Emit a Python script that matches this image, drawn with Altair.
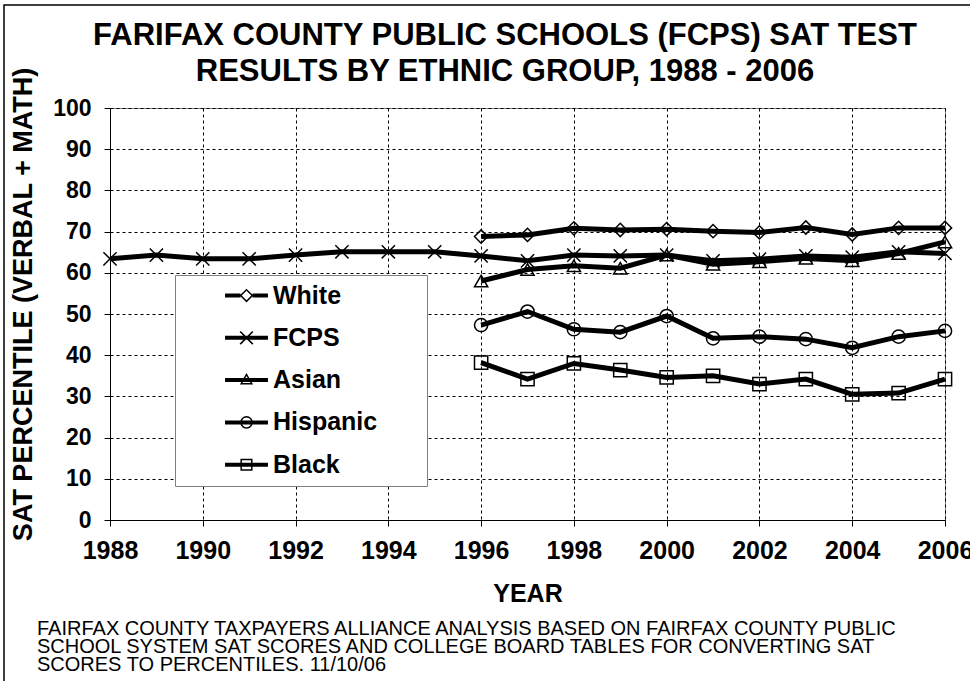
import math
import altair as alt
import pandas as pd

# ---------------- data ----------------
TITLE_LINES = ["FARIFAX COUNTY PUBLIC SCHOOLS (FCPS) SAT TEST",
               "RESULTS BY ETHNIC GROUP, 1988 - 2006"]
Y_TITLE = "SAT PERCENTILE  (VERBAL + MATH)"
X_TITLE = "YEAR"
NOTE_LINES = [
    "FAIRFAX COUNTY TAXPAYERS ALLIANCE ANALYSIS BASED ON FAIRFAX COUNTY PUBLIC",
    "SCHOOL SYSTEM SAT SCORES AND COLLEGE BOARD TABLES FOR CONVERTING SAT",
    "SCORES TO PERCENTILES.  11/10/06",
]
SERIES = ["White", "FCPS", "Asian", "Hispanic", "Black"]
FCPS_YEARS = list(range(1988, 2007))
GROUP_YEARS = list(range(1996, 2007))
FCPS = [63.4, 64.3, 63.4, 63.4, 64.3, 65.1, 65.1, 65.1, 64.1, 62.9,
        64.3, 64.1, 64.3, 62.9, 63.3, 64.1, 63.8, 65.1, 64.7]
WHITE = [68.8, 69.2, 70.8, 70.4, 70.6, 70.1, 69.8, 71.0, 69.3, 70.9, 70.9]
ASIAN = [58.0, 60.8, 61.7, 61.1, 64.3, 62.1, 62.7, 63.5, 62.9, 64.7, 67.5]
HISPANIC = [47.3, 50.6, 46.3, 45.6, 49.5, 44.1, 44.5, 43.9, 41.8, 44.5, 45.9]
BLACK = [38.2, 34.2, 38.0, 36.4, 34.6, 35.0, 33.0, 34.2, 30.5, 30.8, 34.2]
X_TICKS = list(range(1988, 2007, 2))
Y_TICKS = list(range(0, 101, 10))

rows = []
for name, years, vals in [("White", GROUP_YEARS, WHITE), ("FCPS", FCPS_YEARS, FCPS),
                          ("Asian", GROUP_YEARS, ASIAN), ("Hispanic", GROUP_YEARS, HISPANIC),
                          ("Black", GROUP_YEARS, BLACK)]:
    for y, v in zip(years, vals):
        rows.append({"year": y, "series": name, "value": v})
df = pd.DataFrame(rows)

# ---------------- styling ----------------
FONT = "Liberation Sans"
W, H = 835, 412
PAD = {"left": 110, "top": 108, "right": 25, "bottom": 161}

X_MARK = "M-1,-1L1,1M-1,1L1,-1"
MARKERS = ["diamond", X_MARK, "triangle-up", "circle", "square"]


def _poly(pts, hole=False):
    n = len(pts)
    a = sum(pts[i][0] * pts[(i + 1) % n][1] - pts[(i + 1) % n][0] * pts[i][1] for i in range(n))
    if (a > 0) == hole:
        pts = pts[::-1]
    return "M" + "L".join(f"{x:.3f},{y:.3f}" for x, y in pts) + "Z"


BL, BH = 3.9, 0.36  # legend line half-length / half-thickness (symbol units)


def _bar(x0, x1):
    return _poly([(x0, -BH), (x1, -BH), (x1, BH), (x0, BH)])


BAR = _bar(-BL, BL)


def _circle(r, n=32):
    return [(r * math.cos(2 * math.pi * k / n), r * math.sin(2 * math.pi * k / n)) for k in range(n)]


def _xbar(sign, half=1.15, h=0.15):
    c = 1 / math.sqrt(2)
    L = half * math.sqrt(2)
    d = (c, sign * c)
    nv = (-sign * c, c)
    return _poly([(L * d[0] + h * nv[0], L * d[1] + h * nv[1]),
                  (L * d[0] - h * nv[0], L * d[1] - h * nv[1]),
                  (-L * d[0] - h * nv[0], -L * d[1] - h * nv[1]),
                  (-L * d[0] + h * nv[0], -L * d[1] + h * nv[1])])


def _tri_inset(pts, t):
    (ax, ay), (bx, by), (cx, cy) = pts
    a = math.dist((bx, by), (cx, cy))
    b = math.dist((ax, ay), (cx, cy))
    c = math.dist((ax, ay), (bx, by))
    p = a + b + c
    ix, iy = (a * ax + b * bx + c * cx) / p, (a * ay + b * by + c * cy) / p
    area = abs((bx - ax) * (cy - ay) - (cx - ax) * (by - ay)) / 2
    r = 2 * area / p
    k = (r - t) / r
    return [(ix + (x - ix) * k, iy + (y - iy) * k) for x, y in pts]


D_OUT, D_IN = 1.25, 0.87
LEG_DIAMOND = (_bar(-BL, -1.1) + _bar(1.1, BL)
               + _poly([(0, -D_OUT), (D_OUT, 0), (0, D_OUT), (-D_OUT, 0)])
               + _poly([(0, -D_IN), (D_IN, 0), (0, D_IN), (-D_IN, 0)], hole=True))
LEG_X = BAR + _xbar(1) + _xbar(-1)
TRI = [(0, -1.3), (1.2, 0.8), (-1.2, 0.8)]
LEG_TRI = BAR + _poly(TRI) + _poly(_tri_inset(TRI, 0.27), hole=True)
LEG_CIRCLE = BAR + _poly(_circle(1.15)) + _poly(_circle(0.88), hole=True)
LEG_SQUARE = (BAR + _poly([(-1.1, -1.1), (1.1, -1.1), (1.1, 1.1), (-1.1, 1.1)])
              + _poly([(-0.83, -0.83), (0.83, -0.83), (0.83, 0.83), (-0.83, 0.83)], hole=True))
LEGEND_PATHS = [LEG_DIAMOND, LEG_X, LEG_TRI, LEG_CIRCLE, LEG_SQUARE]

x_enc = alt.X(
    "year:Q",
    scale=alt.Scale(domain=[1988, 2006], nice=False, zero=False),
    axis=alt.Axis(
        values=X_TICKS, format="d", title=X_TITLE, labelFlush=False, labelOverlap=False,
        labelFont=FONT, labelFontSize=25, labelFontWeight="bold", labelColor="black",
        labelPadding=12, tickSize=6, tickColor="black", domainColor="black",
        grid=True, gridColor="black", gridDash=[3, 3], gridWidth=1,
        titleFont=FONT, titleFontSize=25, titleFontWeight="bold", titleColor="black",
        titleY=81, titleBaseline="alphabetic",
    ),
)
y_enc = alt.Y(
    "value:Q",
    scale=alt.Scale(domain=[0, 100], nice=False),
    axis=alt.Axis(
        values=Y_TICKS, title=Y_TITLE,
        labelFont=FONT, labelFontSize=23, labelFontWeight="bold", labelColor="black",
        labelPadding=13, tickSize=6, tickColor="black", domainColor="black",
        grid=True, gridColor="black", gridDash=[3, 3], gridWidth=1,
        titleFont=FONT, titleFontSize=27, titleFontWeight="bold", titleColor="black",
        titleX=-87, titleY=196, titleBaseline="middle",
    ),
)

frame = alt.Chart(pd.DataFrame({"f": [0]})).mark_rect(
    fillOpacity=0, stroke="black", strokeWidth=1.5
).encode(x=alt.value(-106), x2=alt.value(880), y=alt.value(-103), y2=alt.value(600))

title = alt.Chart(pd.DataFrame({"t": ["\n".join(TITLE_LINES)]})).mark_text(
    align="center", baseline="alphabetic", font=FONT, fontSize=31, fontWeight="bold",
    lineHeight=36, lineBreak="\n", color="black"
).encode(x=alt.value(395), y=alt.value(-63), text="t:N")

lines = alt.Chart(df).mark_line(color="black", strokeWidth=5).encode(
    x=x_enc, y=y_enc, detail="series:N"
)

points = alt.Chart(df).mark_point(
    filled=False, color="black", strokeWidth=1.5, size=175, opacity=1
).encode(
    x=x_enc, y=y_enc,
    shape=alt.Shape("series:N", scale=alt.Scale(domain=SERIES, range=MARKERS), legend=None),
)

legend_layer = alt.Chart(df).transform_filter("false").mark_point(
    filled=True, color="black"
).encode(
    x=x_enc, y=y_enc,
    shape=alt.Shape(
        "series:N",
        scale=alt.Scale(domain=SERIES, range=LEGEND_PATHS),
        legend=alt.Legend(
            title="MM", titleOrient="right", titleOpacity=0, titlePadding=0,
            titleFont=FONT, titleFontSize=25, titleFontWeight="bold",
            orient="none", legendX=65, legendY=167, direction="vertical",
            padding=8, rowPadding=16.3, symbolSize=121, symbolOffset=51, labelOffset=14,
            symbolStrokeWidth=0, symbolFillColor="black", symbolOpacity=1,
            labelFont=FONT, labelFontSize=25, labelFontWeight="bold", labelColor="black",
            labelLimit=500, fillColor="white", strokeColor="#808080",
        ),
    ),
)

note = alt.Chart(pd.DataFrame({"note": ["\n".join(NOTE_LINES)]})).mark_text(
    align="left", baseline="alphabetic", font=FONT, fontSize=20, lineHeight=18,
    lineBreak="\n", color="black"
).encode(x=alt.value(-73), y=alt.value(527), text="note:N")

chart = alt.layer(frame, title, lines, points, legend_layer, note).resolve_scale(
    shape="independent"
).properties(
    width=W, height=H,
    autosize=alt.AutoSizeParams(type="none"),
    padding=PAD,
    background="white",
).configure_view(stroke="#808080", strokeWidth=1)

chart.save("out.html", embed_options={"renderer": "svg", "actions": False})
